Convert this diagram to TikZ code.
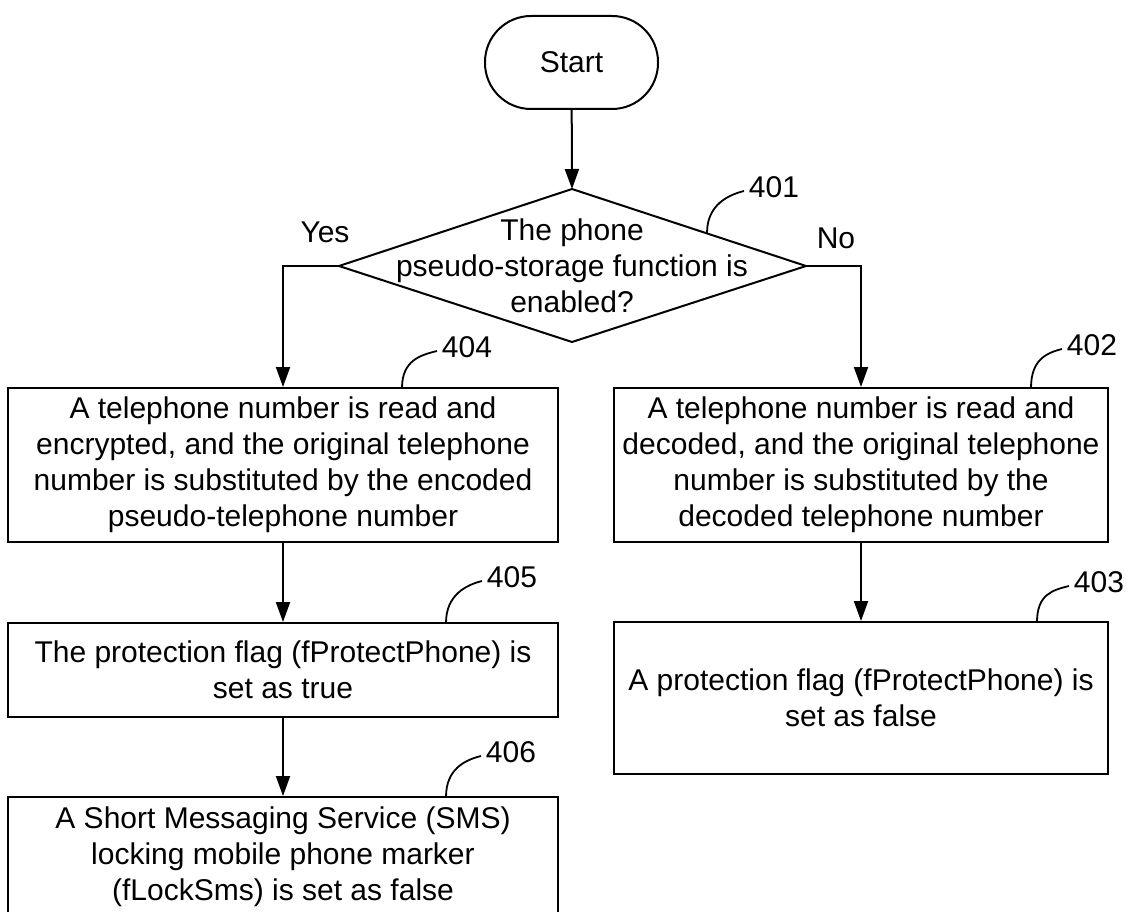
\documentclass[tikz,border=0pt]{standalone}
\usepackage{fontspec}
\setmainfont{Liberation Sans}
\usetikzlibrary{arrows.meta}
\begin{document}
\begin{tikzpicture}[x=1pt,y=-1pt, line width=2pt,
  every node/.style={font=\fontsize{30}{36}\selectfont, inner sep=0pt},
  stepbox/.style={draw, rectangle, align=center},
  arr/.style={-{Triangle[length=20pt,width=14pt]}},
  reflbl/.style={inner sep=4pt},
  refline/.style={line width=1.8pt}]
\clip (0,0) rectangle (1129,912);
\fill[white] (0,0) rectangle (1129,912);

% Start
\node[draw, rounded corners=46pt, minimum width=173pt, minimum height=93pt] (start) at (571.5,62.5) {Start};

% Decision
\coordinate (dT) at (572,189);
\coordinate (dR) at (806,266);
\coordinate (dB) at (572,342);
\coordinate (dL) at (339,266);
\draw (dT) -- (dR) -- (dB) -- (dL) -- cycle;
\node[align=center] (q) at (572,266) {The phone\\pseudo-storage function is\\enabled?};

% Boxes
\node[stepbox, minimum width=550pt, minimum height=154pt] (b404) at (283,465)
  {A telephone number is read and\\encrypted, and the original telephone\\number is substituted by the encoded\\pseudo-telephone number};
\node[stepbox, minimum width=494pt, minimum height=154pt] (b402) at (861,465)
  {A telephone number is read and\\decoded, and the original telephone\\number is substituted by the\\decoded telephone number};
\node[stepbox, minimum width=550pt, minimum height=94pt] (b405) at (283,670)
  {The protection flag (fProtectPhone) is\\set as true};
\node[stepbox, minimum width=494pt, minimum height=152pt] (b403) at (861,698)
  {A protection flag (fProtectPhone) is\\set as false};
\node[stepbox, minimum width=550pt, minimum height=120pt] (b406) at (283,857)
  {A Short Messaging Service (SMS)\\locking mobile phone marker\\(fLockSms) is set as false};

% Branch labels
\node (yes) at (325,232) {Yes};
\node (no) at (836,238) {No};

% Connectors
\draw[arr] (start) -- (dT);
\draw[arr] (dL) -| (b404.north);
\draw[arr] (dR) -| (b402.north);
\draw[arr] (b404) -- (b405);
\draw[arr] (b405) -- (b406);
\draw[arr] (b402) -- (b403);

% Reference numerals
\node[reflbl] (l401) at (774,187) {401};
\node[reflbl] (l404) at (467,347) {404};
\node[reflbl] (l402) at (1092,345) {402};
\node[reflbl] (l405) at (512,577) {405};
\node[reflbl] (l403) at (1099,582) {403};
\node[reflbl] (l406) at (511,752) {406};

\coordinate (c401) at (707,233);
\coordinate (c404) at (402,388);
\coordinate (c402) at (1031,388);
\coordinate (c405) at (446,623);
\coordinate (c403) at (1037,622);
\coordinate (c406) at (446,797);

\foreach \n in {401,404,402,405,403,406}{
  \draw[refline] (c\n) .. controls +(0,-28) and +(-16,4) .. ([yshift=-4pt]l\n.west);
}
\end{tikzpicture}
\end{document}
